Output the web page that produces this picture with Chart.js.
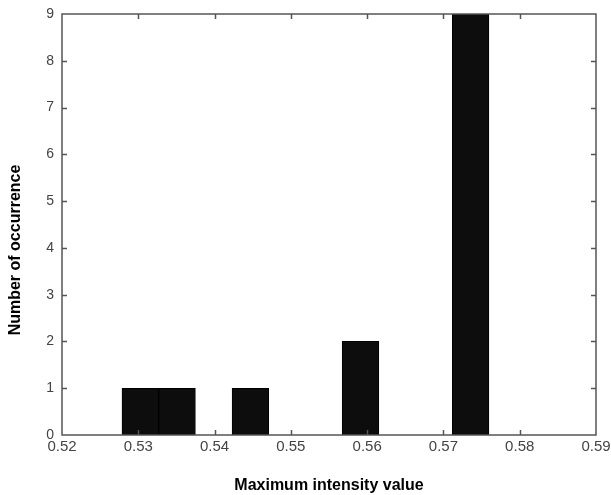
<!DOCTYPE html>
<html>
<head>
<meta charset="utf-8">
<script src="https://cdn.jsdelivr.net/npm/chart.js@4.4.0/dist/chart.umd.min.js"></script>
<style>
  html, body { margin: 0; padding: 0; background: #fff; }
  #wrap { width: 611px; height: 495px; }
</style>
</head>
<body>
<div id="wrap"><canvas id="hist" width="611" height="495"></canvas></div>
<script>
// histogram bins (centres) and counts
var binCenters = [0.53027, 0.53508, 0.53989, 0.54470, 0.54951, 0.55432, 0.55913, 0.56394, 0.56875, 0.57356];
var counts = [1, 1, 0, 1, 0, 0, 2, 0, 0, 9];
var xTicks = [0.52, 0.53, 0.54, 0.55, 0.56, 0.57, 0.58, 0.59];
var yTicks = [0, 1, 2, 3, 4, 5, 6, 7, 8, 9];
var xLabel = "Maximum intensity value";
var yLabel = "Number of occurrence";

var points = binCenters.map(function(c, i) { return {x: c, y: counts[i]}; });

// matlab style box with inward ticks on all four sides
var boxPlugin = {
  id: 'matlabBox',
  afterDatasetsDraw: function(chart) {
    var ctx = chart.ctx;
    var a = chart.chartArea;
    var xs = chart.scales.x, ys = chart.scales.y;
    var len = 5;
    ctx.save();
    ctx.strokeStyle = '#555';
    ctx.lineWidth = 1.5;
    ctx.beginPath();
    xs.ticks.forEach(function(t, i) {
      if (i == 0 || i == xs.ticks.length - 1) return;
      var px = Math.round(xs.getPixelForTick(i)) + 0.5;
      ctx.moveTo(px, a.bottom); ctx.lineTo(px, a.bottom - len);
      ctx.moveTo(px, a.top); ctx.lineTo(px, a.top + len);
    });
    ys.ticks.forEach(function(t, i) {
      if (i == 0 || i == ys.ticks.length - 1) return;
      var py = Math.round(ys.getPixelForTick(i)) + 0.5;
      ctx.moveTo(a.left, py); ctx.lineTo(a.left + len, py);
      ctx.moveTo(a.right, py); ctx.lineTo(a.right - len, py);
    });
    ctx.stroke();
    ctx.strokeRect(a.left, a.top, a.right - a.left, a.bottom - a.top);
    ctx.restore();
  },
  afterDraw: function(chart) {
    // y title sits a bit below the axis centre in the original
    var ctx = chart.ctx;
    ctx.save();
    ctx.translate(16, 250);
    ctx.rotate(-Math.PI / 2);
    ctx.font = 'bold 16px "Liberation Sans", Arial, sans-serif';
    ctx.fillStyle = '#000';
    ctx.textAlign = 'center';
    ctx.textBaseline = 'middle';
    ctx.fillText(yLabel, 0, 0);
    ctx.restore();
  }
};

var ctx = document.getElementById('hist').getContext('2d');
var chart = new Chart(ctx, {
  type: 'bar',
  data: {
    datasets: [{
      data: points,
      backgroundColor: '#0d0d0d',
      borderColor: '#000',
      borderWidth: 1,
      barPercentage: 1,
      categoryPercentage: 1,
      grouped: false
    }]
  },
  options: {
    responsive: false,
    animation: false,
    layout: { padding: { top: 14, right: 15, left: 0, bottom: 0 } },
    plugins: {
      legend: { display: false },
      tooltip: { enabled: false }
    },
    scales: {
      x: {
        type: 'linear',
        offset: false,
        min: xTicks[0],
        max: xTicks[xTicks.length - 1],
        grid: { display: false, drawTicks: false },
        border: { display: false },
        afterBuildTicks: function(scale) {
          scale.ticks = xTicks.map(function(v) { return {value: v}; });
        },
        ticks: {
          padding: 3,
          color: '#444',
          font: { family: '"Liberation Sans", Arial, sans-serif', size: 15 },
          maxRotation: 0,
          autoSkip: false,
          callback: function(v) { return Number(v).toFixed(2); }
        },
        title: {
          display: true,
          text: xLabel,
          color: '#000',
          padding: { top: 0, bottom: 0 },
          font: { family: '"Liberation Sans", Arial, sans-serif', size: 16, weight: 'bold' }
        },
        afterFit: function(scale) {
          scale.height = 60;
          scale.paddingLeft = 0;
          scale.paddingRight = 0;
        }
      },
      y: {
        min: yTicks[0],
        max: yTicks[yTicks.length - 1],
        grid: { display: false, drawTicks: false },
        border: { display: false },
        afterBuildTicks: function(scale) {
          scale.ticks = yTicks.map(function(v) { return {value: v}; });
        },
        ticks: {
          padding: 8,
          color: '#444',
          font: { family: '"Liberation Sans", Arial, sans-serif', size: 14 }
        },
        afterFit: function(scale) {
          scale.width = 62;
          scale.paddingTop = 0;
          scale.paddingBottom = 0;
        }
      }
    }
  },
  plugins: [boxPlugin]
});
</script>
</body>
</html>
